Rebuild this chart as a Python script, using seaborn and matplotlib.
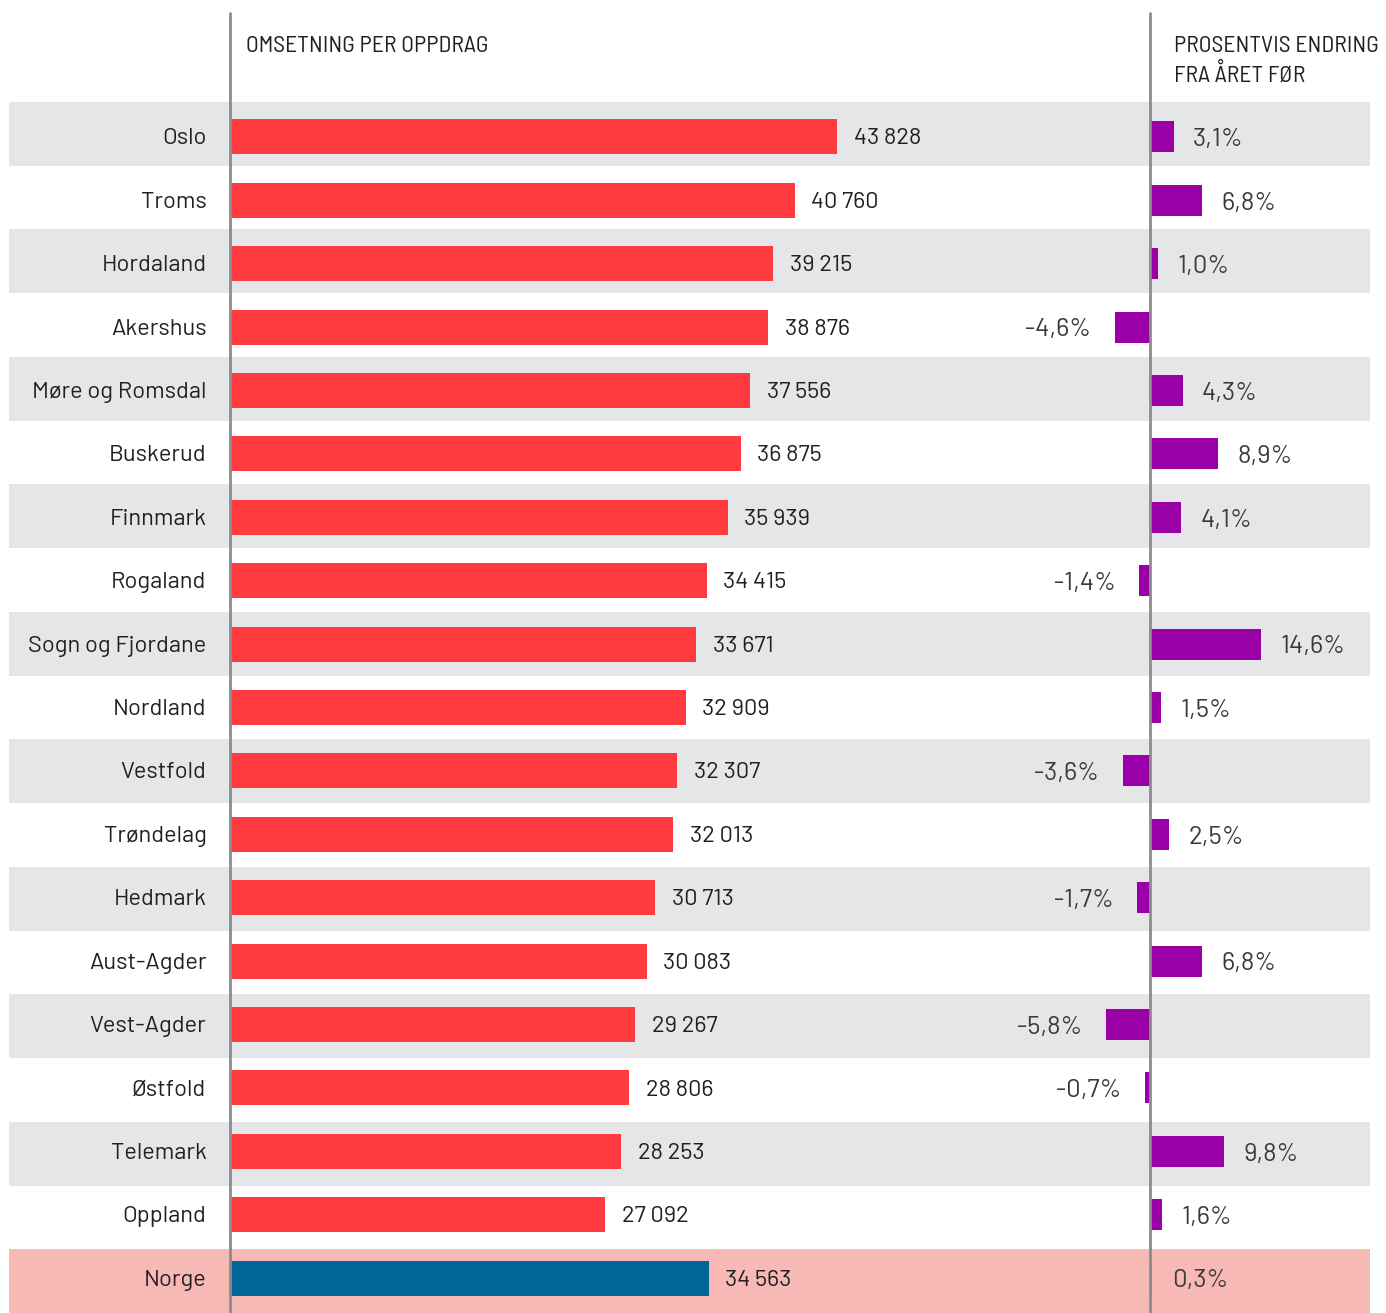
import matplotlib
matplotlib.use("Agg")
import matplotlib.pyplot as plt
import seaborn as sns

names = ["Oslo", "Troms", "Hordaland", "Akershus", "Møre og Romsdal", "Buskerud",
         "Finnmark", "Rogaland", "Sogn og Fjordane", "Nordland", "Vestfold",
         "Trøndelag", "Hedmark", "Aust-Agder", "Vest-Agder", "Østfold",
         "Telemark", "Oppland", "Norge"]
omsetning = [43828, 40760, 39215, 38876, 37556, 36875, 35939, 34415, 33671, 32909,
             32307, 32013, 30713, 30083, 29267, 28806, 28253, 27092, 34563]
endring = [3.1, 6.8, 1.0, -4.6, 4.3, 8.9, 4.1, -1.4, 14.6, 1.5, -3.6, 2.5, -1.7,
           6.8, -5.8, -0.7, 9.8, 1.6, 0.3]

RED = "#ff3b3f"
PURPLE = "#9b00a8"
BLUE_DARK = "#006699"
BLUE_LIGHT = "#0099cc"
GREY_BAND = "#e5e6e8"
PINK_BAND = "#f7b9b5"
TXT = "#231f20"
LINE = "#8c8c8c"

sns.set_theme(style="white")
plt.rcParams["font.family"] = ["Barlow", "Barlow Semi Condensed", "DejaVu Sans"]
head_font = ["Barlow Semi Condensed", "Barlow", "DejaVu Sans"]

W, H = 1386, 1313
fig = plt.figure(figsize=(W / 100, H / 100), dpi=100)

top_px = 102
n = len(names)

def fx(px):
    return px / W

def fy(px):
    return 1 - px / H

# background bands across the full width
bg = fig.add_axes([fx(9), 0, fx(1370 - 9), fy(top_px)])
bg.set_xlim(0, 1)
bg.set_ylim(n - 0.5, -0.5)
for i in range(n):
    if names[i] == "Norge":
        bg.axhspan(i - 0.5, i + 0.5, color=PINK_BAND, lw=0)
    elif i % 2 == 0:
        bg.axhspan(i - 0.5, i + 0.5, color=GREY_BAND, lw=0)
bg.axis("off")

# main bars
px_per_unit = 0.01385
ax = fig.add_axes([fx(230), 0, fx(1150 - 230), fy(top_px)])
ax.patch.set_alpha(0)
cols = [BLUE_DARK if nm == "Norge" else RED for nm in names]
sns.barplot(x=omsetning, y=names, hue=names, palette=cols, legend=False,
            width=0.55, saturation=1, linewidth=0, ax=ax, orient="h")
ax.set_xlim(0, (1150 - 230) / px_per_unit)
ax.set_ylim(n - 0.45, -0.55)
for i, v in enumerate(omsetning):
    ax.annotate(f"{v:,}".replace(",", " "), (v, i), xytext=(12, -1.5),
                textcoords="offset points", va="center", ha="left",
                fontsize=17, color=TXT)
    ax.annotate(names[i], (0, i), xytext=(-17, -1.5), textcoords="offset points",
                va="center", ha="right", fontsize=17, color=TXT)
ax.set_yticks([])
ax.set_xticks([])
ax.set_ylabel("")
sns.despine(ax=ax, left=True, bottom=True)

# percent change bars
px_per_pct = 7.6
ax2 = fig.add_axes([fx(1000), 0, fx(1370 - 1000), fy(top_px)])
ax2.patch.set_alpha(0)
cols2 = [BLUE_LIGHT if nm == "Norge" else PURPLE for nm in names]
sns.barplot(x=endring, y=names, hue=names, palette=cols2, legend=False,
            width=0.49, saturation=1, linewidth=0, ax=ax2, orient="h")
ax2.set_xlim(-(1150 - 1000) / px_per_pct, (1370 - 1150) / px_per_pct)
ax2.set_ylim(n - 0.45, -0.55)
for i, p in enumerate(endring):
    lab = f"{p:.1f}%".replace(".", ",")
    if p >= 0:
        ax2.annotate(lab, (p, i), xytext=(14, -2), textcoords="offset points",
                     va="center", ha="left", fontsize=18.5, color="#3a3a3a")
    else:
        ax2.annotate(lab, (p, i), xytext=(-17, -2), textcoords="offset points",
                     va="center", ha="right", fontsize=18.5, color="#3a3a3a")
ax2.set_yticks([])
ax2.set_xticks([])
ax2.set_ylabel("")
sns.despine(ax=ax2, left=True, bottom=True)

# vertical divider lines
ext = (H - 13) / (H - top_px)
ax.axvline(0, ymin=0, ymax=ext, color=LINE, lw=2, clip_on=False, zorder=5)
ax2.axvline(0, ymin=0, ymax=ext, color=LINE, lw=2, clip_on=False, zorder=5)

# headers
fig.text(fx(246), fy(46), "OMSETNING PER OPPDRAG", ha="left", va="center",
         fontsize=17, color=TXT, family=head_font)
fig.text(fx(1174), fy(46), "PROSENTVIS ENDRING", ha="left", va="center",
         fontsize=17, color=TXT, family=head_font)
fig.text(fx(1174), fy(75), "FRA ÅRET FØR", ha="left", va="center",
         fontsize=17, color=TXT, family=head_font)

fig.savefig("out.png", dpi=100)
